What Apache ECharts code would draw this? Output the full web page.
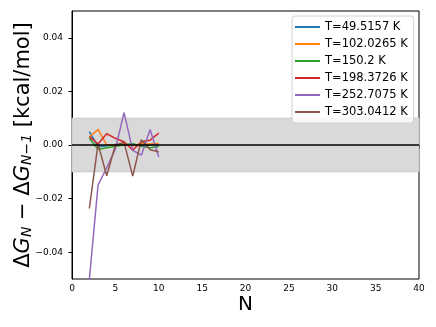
<!DOCTYPE html>
<html>
<head>
<meta charset="utf-8">
<script src="https://cdn.jsdelivr.net/npm/echarts@6/dist/echarts.min.js"></script>
<style>
  html, body { margin: 0; padding: 0; background: #fff; }
  #chart { width: 436px; height: 327px; }
</style>
</head>
<body>
<div id="chart"></div>
<script>
// N values shared by all temperatures
var Ns = [2, 3, 4, 5, 6, 7, 8, 9, 10];

var temps = ['T=49.5157 K', 'T=102.0265 K', 'T=150.2 K', 'T=198.3726 K', 'T=252.7075 K', 'T=303.0412 K'];
var colors = ['#1f77b4', '#ff7f0e', '#2ca02c', '#d62728', '#9467bd', '#8c564b'];

// dG_N - dG_{N-1}
var t49  = [0.0050, -0.0006, -0.0003, 0.0002, 0.0001, 0.0003, -0.0002, 0.0000, 0.0002];
var t102 = [0.0030, 0.0058, 0.0000, 0.0000, 0.0005, -0.0003, 0.0005, 0.0004, 0.0006];
var t150 = [0.0025, -0.0016, -0.0010, -0.0005, 0.0000, 0.0005, -0.0005, -0.0010, -0.0006];
var t198 = [0.0031, 0.0004, 0.0042, 0.0025, 0.0012, -0.0019, 0.0012, 0.0018, 0.0044];
var t252 = [-0.0502, -0.0150, -0.0085, -0.0015, 0.0121, -0.0020, -0.0038, 0.0058, -0.0045];
var t303 = [-0.0237, 0.0004, -0.0115, 0.0000, 0.0010, -0.0116, 0.0020, -0.0018, -0.0025];
var values = [t49, t102, t150, t198, t252, t303];

var yTicks = [-0.04, -0.02, 0, 0.02, 0.04];
var band = [-0.01, 0.01];

function fmtY(v) {
    return v.toFixed(2).replace('-', '\u2212');
}

var font = 'DejaVu Sans';
var chart = echarts.init(document.getElementById('chart'));

var series = values.map(function (vals, i) {
    return {
        name: temps[i],
        type: 'line',
        symbol: 'none',
        z: 3,
        lineStyle: { width: 1.5, color: colors[i] },
        itemStyle: { color: colors[i] },
        data: Ns.map(function (n, j) { return [n, vals[j]]; })
    };
});

// gray tolerance band + zero line
series.unshift({
    type: 'line',
    data: [],
    z: 1,
    silent: true,
    markArea: {
        silent: true,
        itemStyle: { color: '#d9d9d9', borderColor: '#c9c9c9', borderWidth: 1 },
        data: [[{ yAxis: band[0] }, { yAxis: band[1] }]]
    },
    markLine: {
        silent: true,
        symbol: 'none',
        label: { show: false },
        lineStyle: { color: '#000', width: 1.5, type: 'solid' },
        data: [{ yAxis: 0 }]
    }
});

chart.setOption({
    animation: false,
    grid: {
        left: 72, right: 17, top: 11, bottom: 48,
        outerBoundsMode: 'none',
        show: true, borderColor: '#000', borderWidth: 1
    },
    legend: {
        data: temps,
        orient: 'vertical',
        left: 292, top: 16,
        padding: [4, 6, 4, 3],
        itemWidth: 25, itemHeight: 2,
        itemGap: 3,
        icon: 'rect',
        backgroundColor: 'rgba(255,255,255,0.8)',
        borderColor: '#d0d0d0', borderWidth: 1, borderRadius: 3,
        textStyle: { fontFamily: font, fontSize: 11.5, color: '#000', lineHeight: 14 }
    },
    xAxis: {
        type: 'value',
        min: 0, max: 40, interval: 5,
        name: 'N',
        nameLocation: 'middle',
        nameGap: 16,
        nameMoveOverlap: false,
        nameTextStyle: { fontFamily: font, fontSize: 20, color: '#000' },
        splitLine: { show: false },
        axisLine: { lineStyle: { color: '#000', width: 1 } },
        axisTick: { length: 3.5, lineStyle: { color: '#000' } },
        axisLabel: { fontFamily: font, fontSize: 9, color: '#000', margin: 5 }
    },
    yAxis: {
        type: 'value',
        min: -0.05, max: 0.05,
        name: '{a|\u0394}{i|G}{s|N}{a| \u2212 \u0394}{i|G}{s|N\u22121}{a| [kcal/mol]}',
        nameLocation: 'middle',
        nameGap: 38,
        nameRotate: 90,
        nameMoveOverlap: false,
        nameTextStyle: {
            fontFamily: font, color: '#000',
            rich: {
                a: { fontFamily: font, fontSize: 21, color: '#000', verticalAlign: 'bottom', lineHeight: 25 },
                i: { fontFamily: font, fontSize: 21, fontStyle: 'italic', color: '#000', verticalAlign: 'bottom', lineHeight: 25 },
                s: { fontFamily: font, fontSize: 14, fontStyle: 'italic', color: '#000', verticalAlign: 'bottom', lineHeight: 15 }
            }
        },
        splitLine: { show: false },
        axisLine: { lineStyle: { color: '#000', width: 1 } },
        axisTick: { length: 3.5, customValues: yTicks, lineStyle: { color: '#000' } },
        axisLabel: {
            fontFamily: font, fontSize: 9, color: '#000', margin: 9,
            customValues: yTicks,
            formatter: fmtY
        }
    },
    series: series
});
</script>
</body>
</html>
